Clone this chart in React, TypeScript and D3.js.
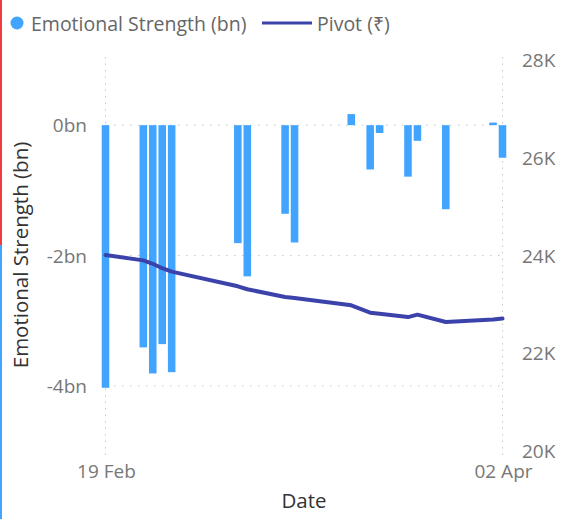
import React from "react";
import * as d3 from "d3";

const dates = ["2023-02-19","2023-02-23","2023-02-24","2023-02-25","2023-02-26","2023-03-05","2023-03-06","2023-03-10","2023-03-11","2023-03-17","2023-03-19","2023-03-20","2023-03-23","2023-03-24","2023-03-27","2023-04-01","2023-04-02"];
const strength = [-4.03,-3.41,-3.81,-3.36,-3.79,-1.81,-2.32,-1.36,-1.80,0.17,-0.68,-0.12,-0.79,-0.24,-1.29,0.04,-0.50];
const pivot = [24010,23900,23830,23740,23670,23370,23310,23150,23130,22980,22830,22810,22740,22790,22640,22690,22710];
const leftTicks = [0, -2, -4];
const rightTicks = [20000, 22000, 24000, 26000, 28000];
const xTickDates = ["2023-02-19", "2023-04-02"];
const xTickLabels = ["19 Feb", "02 Apr"];

const W = 565, H = 519;
const FONT = "'Segoe UI', 'Open Sans', sans-serif";
const parse = d3.timeParse("%Y-%m-%d");

export default function App() {
  const x = d3.scaleTime().domain([parse("2023-02-19")!, parse("2023-04-02")!]).range([105.5, 502.5]);
  const yL = d3.scaleLinear().domain([-5, 1]).range([451, 60]);
  const yR = d3.scaleLinear().domain([20000, 28000]).range([451, 60]);
  const step = x(parse("2023-02-20")!) - x(parse("2023-02-19")!);
  const bw = step * 0.8;
  const pts = dates.map((d, i) => ({ d: parse(d)!, s: strength[i], p: pivot[i] }));
  const line = d3.line<any>().x(p => x(p.d)).y(p => yR(p.p));
  const grid = "#c8c8c8";
  return (
    <svg width={W} height={H} style={{ position: "fixed", left: 0, top: 0, background: "#fff" }}>
      <rect x={0} y={0} width={W} height={H} fill="#fff" />
      <line x1={1} x2={1} y1={0} y2={245} stroke="#f03c3c" strokeWidth={2} />
      <line x1={1} x2={1} y1={245} y2={H} stroke="#41A4FF" strokeWidth={2} />
      {/* legend */}
      <circle cx={17} cy={23} r={6.5} fill="#41A4FF" />
      <text x={31} y={30.5} fontFamily={FONT} fontSize={19.5} fill="#666">Emotional Strength (bn)</text>
      <line x1={262} x2={312} y1={23} y2={23} stroke="#3B43AA" strokeWidth={3} />
      <text x={317} y={30.5} fontFamily={FONT} fontSize={19.5} fill="#666">Pivot (₹)</text>
      {/* gridlines */}
      {leftTicks.map(t => (
        <line key={t} x1={106} x2={502} y1={yL(t)} y2={yL(t)} stroke={grid} strokeDasharray="1.5,6.5" />
      ))}
      {xTickDates.map(t => (
        <line key={t} x1={x(parse(t)!)} x2={x(parse(t)!)} y1={57} y2={455} stroke={grid} strokeDasharray="1.5,5" />
      ))}
      {/* bars */}
      {pts.map((p, i) => (
        <rect key={i} x={x(p.d) - bw / 2} width={bw} y={Math.min(yL(p.s), yL(0))} height={Math.abs(yL(p.s) - yL(0))} fill="#41A4FF" />
      ))}
      <path d={line(pts) || ""} fill="none" stroke="#3B43AA" strokeWidth={4} strokeLinejoin="round" strokeLinecap="round" />
      {/* left axis */}
      {leftTicks.map(t => (
        <text key={t} x={87} y={yL(t) + 7} textAnchor="end" fontFamily={FONT} fontSize={19} fill="#777">{t + "bn"}</text>
      ))}
      {rightTicks.map(t => (
        <text key={t} x={522} y={yR(t) + 7} fontFamily={FONT} fontSize={19} fill="#777">{d3.format("~s")(t).replace("k", "K")}</text>
      ))}
      {xTickDates.map((t, i) => (
        <text key={t} x={x(parse(t)!) + 1} y={478} textAnchor="middle" fontFamily={FONT} fontSize={19} fill="#777">{xTickLabels[i]}</text>
      ))}
      <text x={304} y={508} textAnchor="middle" fontFamily={FONT} fontSize={20.5} fill="#333">Date</text>
      <text transform={`translate(28,255) rotate(-90)`} textAnchor="middle" fontFamily={FONT} fontSize={20.5} fill="#333">Emotional Strength (bn)</text>
    </svg>
  );
}
